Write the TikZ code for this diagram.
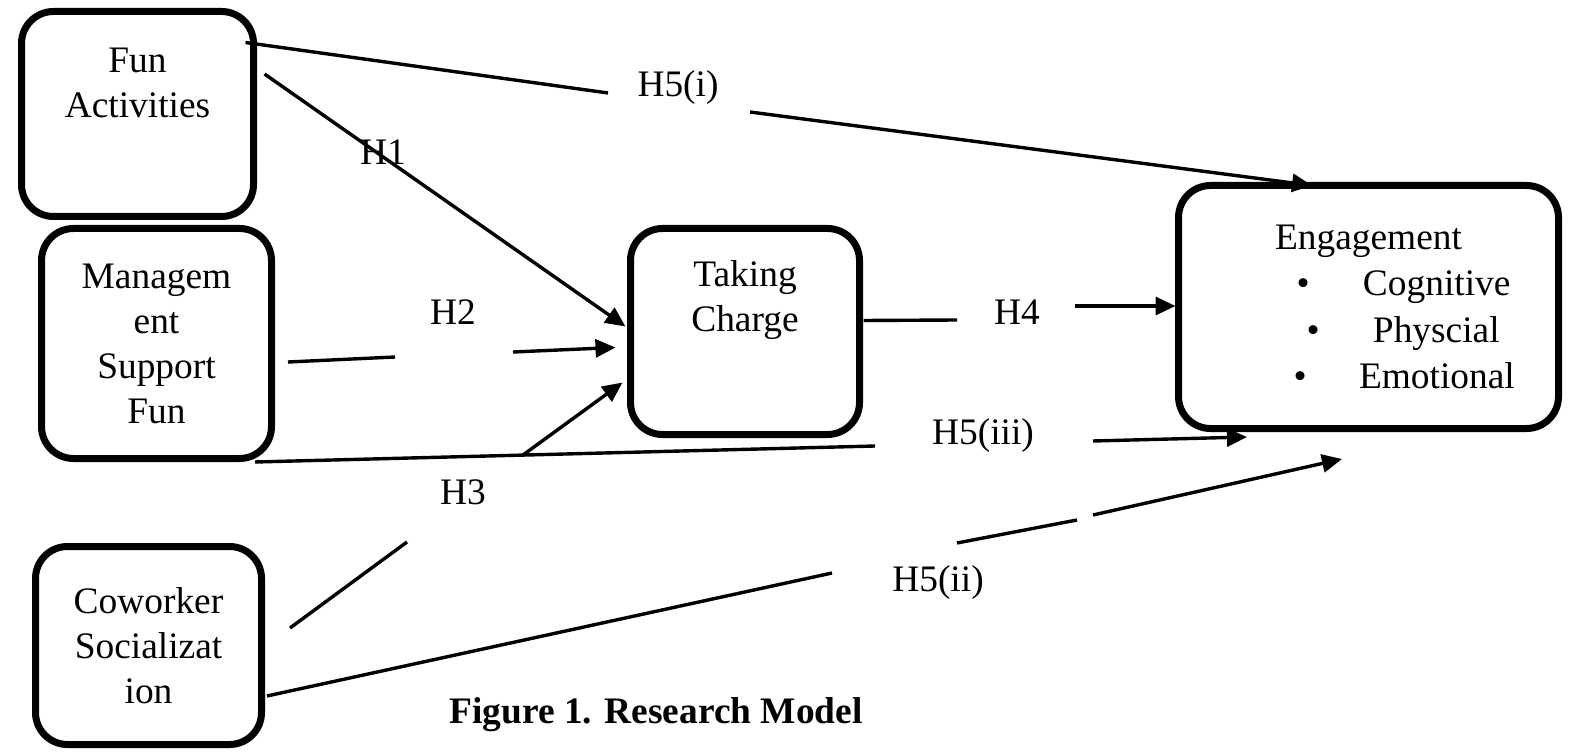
\documentclass[tikz,border=0pt]{standalone}
\usepackage{fontspec}
\setmainfont{Liberation Serif}
\usepackage{tikz}
\usetikzlibrary{arrows.meta,calc}
\newcommand{\engrow}[3]{\makebox[190pt][l]{\rlap{\hspace*{#1}\textbullet}\hspace*{#2}#3}}

\begin{document}
\begin{tikzpicture}[x=0.5pt, y=-0.5pt,
  every node/.style={font=\fontsize{18.7}{22.5}\selectfont},
  box/.style={draw, line width=3.5pt, rounded corners=16pt, align=center, outer sep=0pt},
  hyp/.style={inner sep=0pt},
  link/.style={line width=1.7pt},
  arr/.style={link, -{Triangle[length=10pt,width=9pt]}}]
\useasboundingbox (0,0) rectangle (1573,753);
\node[box, inner ysep=0pt, minimum width=116pt, text height=53.25pt, text depth=49.25pt] (fun) at (137.5,114) {Fun\\Activities};
\node[box, minimum width=115pt, minimum height=115pt] (mgmt) at (156.5,343.5) {Managem\\ent\\Support\\Fun};
\node[box, minimum width=113pt, minimum height=99pt] (cow) at (148.5,645.5) {Coworker\\Socializat\\ion};
\node[box, inner ysep=0pt, minimum width=114.5pt, text height=51.75pt, text depth=51.25pt] (tc) at (745,331.5) {Taking\\Charge};
\node[box, inner xsep=0pt, minimum width=190pt, minimum height=121.5pt,
      font=\fontsize{18.7}{23.3}\selectfont] (eng) at (1368.5,307)
  {\makebox[190pt][l]{\hspace*{48.25pt}Engagement}\\
   \engrow{59pt}{92.25pt}{Cognitive}\\
   \engrow{64pt}{97.25pt}{Physcial}\\
   \engrow{57.5pt}{90.25pt}{Emotional}};
\node[hyp] (h5i) at (678,88) {H5(i)};
\node[hyp] (h1) at (383,152) {H1};
\node[hyp] (h2) at (453,312) {H2};
\node[hyp] (h3) at (463,492) {H3};
\node[hyp] (h4) at (1017,312) {H4};
\node[hyp] (h5iii) at (983,436) {H5(iii)};
\node[hyp] (h5ii) at (938,583) {H5(ii)};
\node[font=\fontsize{18.7}{22.5}\selectfont\bfseries] (caption) at (656,715) {Figure 1. Research Model};
\coordinate (h5i-a) at (608,93);
\coordinate (h5i-b) at (750,112);
\coordinate (h2-a) at (395,357);
\coordinate (h2-b) at (513,352);
\coordinate (h3-a) at (407,542);
\coordinate (h3-b) at (523,455);
\coordinate (h4-a) at (957,320);
\coordinate (h4-b) at (1075,306);
\coordinate (h5iii-a) at (875,446);
\coordinate (h5iii-b) at (1093,441);
\coordinate (h5ii-a) at (832,573);
\coordinate (h5ii-b) at (957,543);
\coordinate (h5ii-c) at (1077,520);
\coordinate (h5ii-d) at (1093,515);
\draw[link] ($(fun.north east)+(-8,31)$) -- (h5i-a);
\draw[arr] (h5i-b) -- ($(eng.north west)+(133.5,0)$);
\draw[arr] ($(fun.east)+(11,-40)$) -- ($(tc.west)+(-5,-5)$);
\draw[link] ($(mgmt.east)+(16.5,18.5)$) -- (h2-a);
\draw[arr] (h2-b) -- ($(tc.west)+(-15,16)$);
\draw[link] ($(cow.east)+(28.5,-17.5)$) -- (h3-a);
\draw[arr] (h3-b) -- ($(tc.west)+(-8,51)$);
\draw[link] ($(tc.east)+(4,-11)$) -- (h4-a);
\draw[arr] (h4-b) -- ($(eng.west)+(-3,-1)$);
\draw[link] ($(mgmt.south east)+(-16.5,3.5)$) -- (h5iii-a);
\draw[arr] (h5iii-b) -- ($(eng.south west)+(68.5,8.5)$);
\draw[link] ($(cow.east)+(5.5,50.5)$) -- (h5ii-a);
\draw[link] (h5ii-b) -- (h5ii-c);
\draw[arr] (h5ii-d) -- ($(eng.south west)+(163.5,30.5)$);
\end{tikzpicture}
\end{document}
